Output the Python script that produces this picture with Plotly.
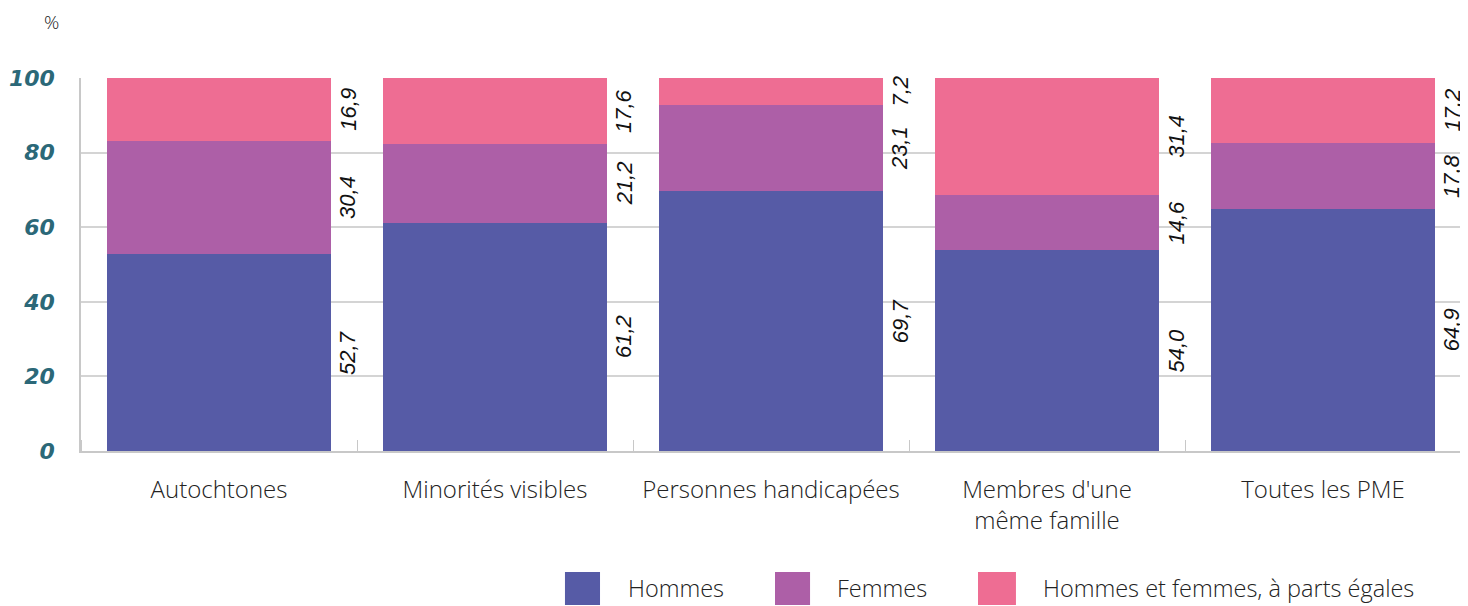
import plotly.graph_objects as go

categories = ["Autochtones", "Minorités visibles", "Personnes handicapées",
              "Membres d'une<br>même famille", "Toutes les PME"]
series_names = ["Hommes", "Femmes", "Hommes et femmes, à parts égales"]
hommes = [52.7, 61.2, 69.7, 54.0, 64.9]
femmes = [30.4, 21.2, 23.1, 14.6, 17.8]
egales = [16.9, 17.6, 7.2, 31.4, 17.2]
y_ticks = [0, 20, 40, 60, 80, 100]

colors = ["#565ba6", "#ad5fa7", "#ee6d93"]
series = [hommes, femmes, egales]
xpos = list(range(len(categories)))

LIGHT = "Open Sans"

fig = go.Figure()
for name, vals, col in zip(series_names, series, colors):
    fig.add_trace(go.Bar(x=xpos, y=vals, name=name, marker=dict(color=col, line=dict(width=0)),
                         width=0.81, showlegend=False, hoverinfo="y+name"))

# value labels, rotated, right of each bar at segment middle
for i in xpos:
    base = 0
    for vals in series:
        v = vals[i]
        fig.add_annotation(x=i + 0.468, y=base + v / 2, xref="x", yref="y",
                           text=f"{v:.1f}".replace(".", ","), textangle=-90,
                           showarrow=False,
                           font=dict(family="Liberation Sans, Arial", size=22, color="#111111",
                                     style="italic"))
        base += v

# custom legend (large swatches)
sw = [(0.3507, 0.3761, 0.3949), (0.5029, 0.5283, 0.5464), (0.6500, 0.6775, 0.6957)]
for (x0, x1, xt), name, col in zip(sw, series_names, colors):
    fig.add_shape(type="rect", xref="paper", yref="paper", x0=x0, x1=x1, y0=-0.4129, y1=-0.3244,
                  fillcolor=col, line=dict(width=0))
    fig.add_annotation(xref="paper", yref="paper", x=xt, y=-0.367, text=name, showarrow=False,
                       xanchor="left", yanchor="middle",
                       font=dict(family=LIGHT, size=23.5, color="#222222", weight=300))

fig.add_annotation(xref="paper", yref="paper", x=-0.0217, y=1.15, text="%", showarrow=False,
                   xanchor="center", yanchor="middle",
                   font=dict(family=LIGHT, size=19, color="#222222", weight=300))

fig.update_layout(
    barmode="stack",
    width=1460, height=598,
    margin=dict(l=73, r=7, t=70, b=155),
    plot_bgcolor="white", paper_bgcolor="white",
)
fig.update_xaxes(
    range=[-0.5, 4.5], tickmode="array", tickvals=xpos, ticktext=categories,
    ticks="", showgrid=False, showline=True, linecolor="#c8c8c8", linewidth=1.5,
    tickfont=dict(family=LIGHT, size=24, color="#222222", weight=300),
    ticklabelstandoff=16, automargin=False,
    minor=dict(tickmode="array", tickvals=[i + 0.5 for i in range(-1, len(categories))],
               ticks="inside", ticklen=11, tickcolor="#c8c8c8", tickwidth=1, showgrid=False),
)
fig.update_yaxes(
    range=[0, 100], tickmode="array", tickvals=y_ticks, showgrid=True, gridcolor="#d4d4d4",
    gridwidth=1.5, showline=True, linecolor="#c8c8c8", linewidth=1.5, zeroline=False,
    tickfont=dict(family="DejaVu Sans", size=22, color="#2b6878", style="italic", weight=600),
    ticklabelstandoff=20, automargin=False,
)

fig.write_html("out.html")
